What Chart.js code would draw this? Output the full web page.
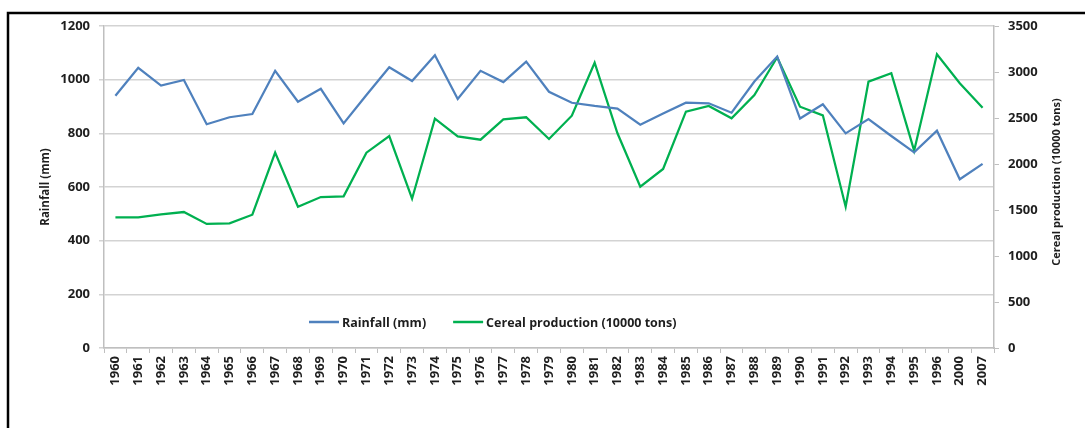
<!DOCTYPE html>
<html>
<head>
<meta charset="utf-8">
<script src="https://cdn.jsdelivr.net/npm/chart.js@4.4.0/dist/chart.umd.min.js"></script>
<style>
html,body{margin:0;padding:0;background:#fff;}
#wrap{position:relative;width:1085px;height:428px;}
canvas{display:block;}
</style>
</head>
<body>
<div id="wrap"><canvas id="c" width="1085" height="428"></canvas></div>
<script>
const years = ['1960','1961','1962','1963','1964','1965','1966','1967','1968','1969','1970','1971','1972','1973','1974','1975','1976','1977','1978','1979','1980','1981','1982','1983','1984','1985','1986','1987','1988','1989','1990','1991','1992','1993','1994','1995','1996','2000','2007'];
const rainfall = [940,1044,978,999,834,860,872,1033,918,966,837,943,1046,995,1091,928,1033,991,1067,955,914,902,892,832,874,914,912,877,993,1086,855,908,800,853,790,729,810,629,686];
const cereal = [1420,1420,1453,1478,1348,1355,1449,2123,1536,1641,1649,2123,2304,1623,2493,2301,2264,2486,2508,2272,2525,3101,2334,1753,1946,2569,2631,2497,2750,3160,2623,2529,1536,2895,2986,2145,3192,2877,2612];
const leftAxis = {min:0, max:1200, step:200, title:'Rainfall (mm)'};
const rightAxis = {min:0, max:3500, step:500, title:'Cereal production (10000 tons)'};
const seriesNames = ['Rainfall (mm)', 'Cereal production (10000 tons)'];
const seriesColors = ['#4F81BD', '#00B050'];

const TEXT = '#1e1e1e';
const FONT = '"Open Sans", "DejaVu Sans", sans-serif';
const AXIS_GREY = '#bfbfbf';
const GRID_GREY = '#d3d3d3';
const plain = v => String(v);

const decor = {
  id: 'decor',
  beforeDraw(chart) {
    const ctx = chart.ctx;
    ctx.save();
    ctx.fillStyle = '#fff';
    ctx.fillRect(0, 0, chart.width, chart.height);
    ctx.restore();
  },
  afterDraw(chart) {
    const ctx = chart.ctx, a = chart.chartArea;
    ctx.save();
    // frame
    ctx.strokeStyle = '#000';
    ctx.lineWidth = 2.5;
    ctx.beginPath();
    ctx.moveTo(8, chart.height);
    ctx.lineTo(8, 13);
    ctx.lineTo(chart.width, 13);
    ctx.stroke();

    // axis titles
    const mid = (a.top + a.bottom) / 2;
    ctx.fillStyle = TEXT;
    ctx.textAlign = 'center';
    ctx.textBaseline = 'middle';
    ctx.font = 'bold 11.5px ' + FONT;
    ctx.save();
    ctx.translate(46, mid);
    ctx.rotate(-Math.PI / 2);
    ctx.fillText(leftAxis.title, 0, 0);
    ctx.restore();
    ctx.font = 'bold 11px ' + FONT;
    ctx.save();
    ctx.translate(1057, mid - 5);
    ctx.rotate(-Math.PI / 2);
    ctx.fillText(rightAxis.title, 0, 0);
    ctx.restore();

    // legend inside plot
    ctx.font = 'bold 12.5px ' + FONT;
    ctx.textAlign = 'left';
    const ly = a.bottom - 26;
    let x = 309;
    chart.data.datasets.forEach((ds, i) => {
      ctx.strokeStyle = ds.borderColor;
      ctx.lineWidth = 2.5;
      ctx.beginPath();
      ctx.moveTo(x, ly);
      ctx.lineTo(x + 30, ly);
      ctx.stroke();
      ctx.fillStyle = TEXT;
      ctx.fillText(ds.label, x + 33, ly + 1);
      x = x + 33 + ctx.measureText(ds.label).width + 27;
    });
    ctx.restore();
  }
};

new Chart(document.getElementById('c'), {
  type: 'line',
  data: {
    labels: years,
    datasets: [
      {label: seriesNames[0], data: rainfall, yAxisID: 'y', borderColor: seriesColors[0], backgroundColor: seriesColors[0], borderWidth: 2.25, pointRadius: 0, tension: 0, fill: false},
      {label: seriesNames[1], data: cereal, yAxisID: 'y1', borderColor: seriesColors[1], backgroundColor: seriesColors[1], borderWidth: 2.25, pointRadius: 0, tension: 0, fill: false}
    ]
  },
  options: {
    responsive: false,
    animation: false,
    layout: {padding: {top: 26, left: 0, right: 0, bottom: 0}},
    plugins: {legend: {display: false}, tooltip: {enabled: false}},
    scales: {
      x: {
        type: 'category',
        offset: true,
        grid: {offset: true, drawOnChartArea: false, color: AXIS_GREY, tickLength: 5, lineWidth: 1},
        border: {color: AXIS_GREY, width: 1.5},
        ticks: {autoSkip: false, minRotation: 90, maxRotation: 90, padding: 3, color: TEXT, font: {family: FONT, size: 13, weight: 'bold'}},
        afterFit(s) { s.height = 80; }
      },
      y: {
        position: 'left',
        min: leftAxis.min, max: leftAxis.max,
        grid: {color: GRID_GREY, lineWidth: 1.5, tickLength: 5},
        border: {color: AXIS_GREY, width: 1.5},
        ticks: {stepSize: leftAxis.step, padding: 9, color: TEXT, font: {family: FONT, size: 13, weight: 'bold'}, callback: plain},
        afterFit(s) { s.width = 104; }
      },
      y1: {
        position: 'right',
        min: rightAxis.min, max: rightAxis.max,
        grid: {drawOnChartArea: false, color: AXIS_GREY, lineWidth: 1, tickLength: 5},
        border: {color: AXIS_GREY, width: 1.5},
        ticks: {stepSize: rightAxis.step, padding: 9, color: TEXT, font: {family: FONT, size: 13, weight: 'bold'}, callback: plain},
        afterFit(s) { s.width = 91; }
      }
    }
  },
  plugins: [decor]
});
</script>
</body>
</html>
